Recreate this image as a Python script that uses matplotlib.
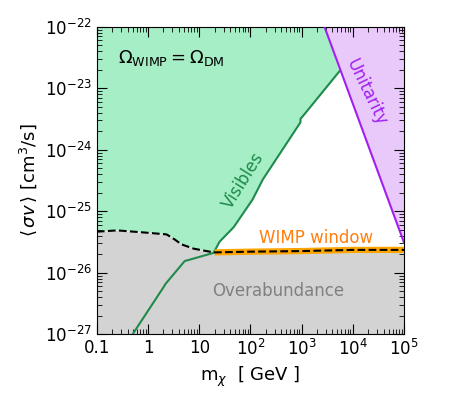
import numpy as np
import matplotlib
matplotlib.use("Agg")
import matplotlib.pyplot as plt
from matplotlib.ticker import LogLocator, NullFormatter

# Visibles bound (green line), mass in GeV, <sigma v> in cm^3/s
vis_m = [0.5, 2.0, 2.2, 5.2, 6.0, 19.0, 25.0, 47.0, 110.0, 175.0, 950.0, 950.0, 1050.0, 5500.0]
vis_sv = [1.0e-27, 5.8e-27, 6.6e-27, 1.55e-26, 1.6e-26, 2.1e-26, 3.2e-26, 5.5e-26,
          1.55e-25, 3.3e-25, 2.8e-24, 3.2e-24, 3.5e-24, 1.9e-23]

# Relic density line (Omega_WIMP = Omega_DM)
relic_m = [0.1, 0.25, 0.94, 2.3, 3.3, 4.5, 7.8, 16.0, 20.0, 100.0, 1000.0, 1e4, 1e5]
relic_sv = [4.65e-26, 4.88e-26, 4.48e-26, 4.2e-26, 3.48e-26, 2.89e-26, 2.46e-26, 2.2e-26,
            2.14e-26, 2.2e-26, 2.25e-26, 2.35e-26, 2.35e-26]

# Unitarity bound
uni_m = [2800.0, 1e5]
uni_sv = [1e-22, 3.1e-26]

xmin, xmax = 0.1, 1e5
ymin, ymax = 1e-27, 1e-22

fig = plt.figure(figsize=(4.57, 3.95), dpi=100)
ax = fig.add_axes([0.212, 0.154, 0.672, 0.778])
ax.set_xscale("log")
ax.set_yscale("log")

# overabundance region below relic line
ax.fill_between(relic_m, relic_sv, ymin, color="lightgray", lw=0, zorder=1)

# visibles region: above relic line (low mass) then above the green line, up to unitarity
i_w = relic_m.index(20.0)
i_v = vis_m.index(19.0)
gx = [xmin] + relic_m[:i_w + 1] + vis_m[i_v + 1:] + [uni_m[0], xmin]
gy = [ymax] + relic_sv[:i_w + 1] + vis_sv[i_v + 1:] + [uni_sv[0], ymax]
ax.fill(gx, gy, color="#a6efc6", lw=0, zorder=1)
ax.plot(vis_m, vis_sv, color="#1f8a4c", lw=1.5, zorder=3)

# unitarity region
ax.fill(uni_m + [xmax], uni_sv + [ymax], color="#e9c8fa", lw=0, zorder=1)
ax.plot(uni_m, uni_sv, color="#a020f0", lw=1.5, zorder=3)

# WIMP window band + relic line
ax.plot(relic_m[i_w:], relic_sv[i_w:], color="orange", lw=4.5, solid_capstyle="butt", zorder=4)
ax.plot(relic_m, relic_sv, color="black", ls="--", lw=1.5, zorder=5)

ax.text(0.068, 0.90, r"$\Omega_{\rm WIMP}=\Omega_{\rm DM}$", transform=ax.transAxes,
        fontsize=13, va="center", ha="left")
ax.text(73, 3.2e-25, "Visibles", color="#1f8a4c", fontsize=12, rotation=58,
        ha="center", va="center")
ax.text(1.8e4, 8.5e-24, "Unitarity", color="#a020f0", fontsize=12, rotation=-64,
        ha="center", va="center")
ax.text(1930, 3.7e-26, "WIMP window", color="#ff7f0e", fontsize=12, ha="center", va="center")
ax.text(352, 5.0e-27, "Overabundance", color="gray", fontsize=12, ha="center", va="center")

ax.set_xlim(xmin, xmax)
ax.set_ylim(ymin, ymax)
ax.set_xticks([0.1, 1, 10, 100, 1000, 1e4, 1e5])
ax.set_xticklabels(["0.1", "1", "10", r"$10^2$", r"$10^3$", r"$10^4$", r"$10^5$"])
for axis in (ax.xaxis, ax.yaxis):
    axis.set_minor_locator(LogLocator(base=10, subs=np.arange(2, 10), numticks=100))
    axis.set_minor_formatter(NullFormatter())
ax.tick_params(which="both", direction="in", top=True, right=True, labelsize=12)
ax.tick_params(which="major", length=7)
ax.tick_params(which="minor", length=3.5)
ax.set_xlabel(r"m$_\chi$  [ GeV ]", fontsize=13)
ax.set_ylabel(r"$\langle\,\sigma v\,\rangle$ [cm$^3$/s]", fontsize=13)

fig.savefig("out.png", dpi=100)
